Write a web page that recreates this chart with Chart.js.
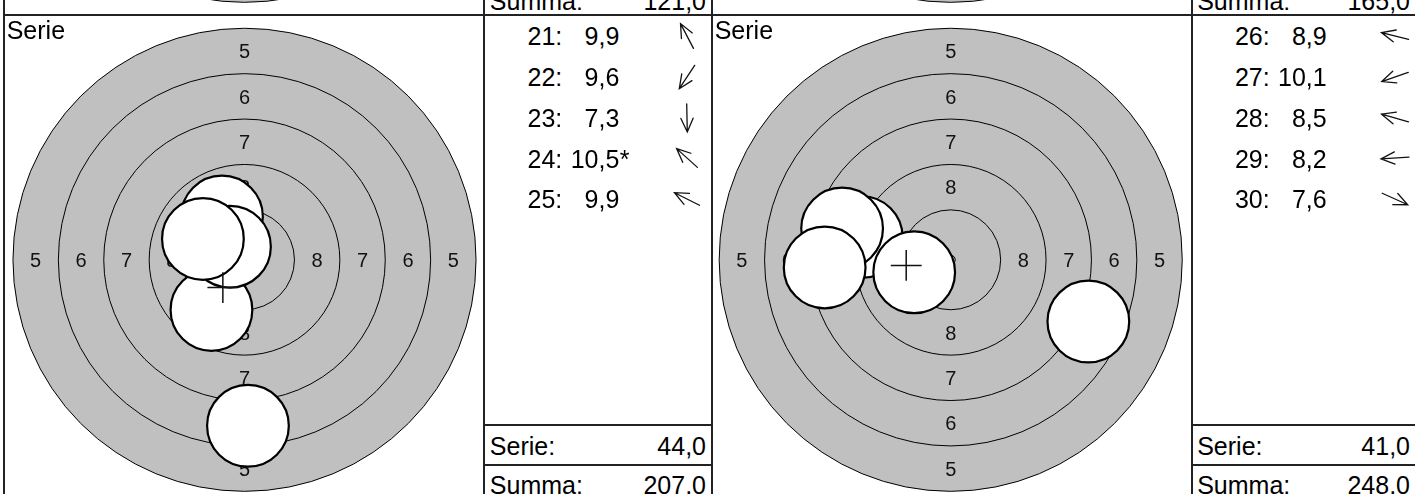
<!DOCTYPE html>
<html><head><meta charset="utf-8">
<script src="https://cdn.jsdelivr.net/npm/chart.js@4.4.1/dist/chart.umd.min.js"></script>
<style>
html,body{margin:0;padding:0;background:#fff;}
body{width:1415px;height:494px;overflow:hidden;position:relative;font-family:"Liberation Sans",Arial,Helvetica,sans-serif;color:#000;}
.ln{position:absolute;background:#222;}
.t{position:absolute;white-space:nowrap;line-height:1;}
canvas{position:absolute;display:block;}
</style></head><body>
<script>
// ---------------- data ----------------
const shotNumbersA = [21, 22, 23, 24, 25];
const shotScoresA  = ['9,9', '9,6', '7,3', '10,5', '9,9'];
const innerTenA    = ['', '', '', '*', ''];
const shotXA = [-1.24, -1.82, 0.19, -0.80, -2.29];   // mm, right +
const shotYA = [ 2.38, -2.76, -9.14, 0.72,  1.15];   // mm, up +
const serieA = '44,0';
const summaA = '207,0';
const prevSummaA = '121,0';

const shotNumbersB = [26, 27, 28, 29, 30];
const shotScoresB  = ['8,9', '10,1', '8,5', '8,2', '7,6'];
const innerTenB    = ['', '', '', '', ''];
const shotXB = [-4.90, -2.01, -5.98, -6.94,  7.58];
const shotYB = [ 1.25, -0.69,  1.72, -0.42, -3.40];
const serieB = '41,0';
const summaB = '248,0';
const prevSummaB = '165,0';

const ringRadii   = [12.75, 10.25, 7.75, 5.25, 2.75, 0.25]; // rings 5..10, mm
const labelRings  = [5, 6, 7, 8];
const labelRadii  = [11.5, 9.0, 6.5, 4.0];
const pelletRadius = 2.25;
const crossHalf = 0.85;
const panelTitle = 'Serie';
const serieLabel = 'Serie:';
const summaLabel = 'Summa:';

// ---------------- layout ----------------
const FONT = '"Liberation Sans", Arial, Helvetica, sans-serif';
const PXMM = 18.16;
const ROW_TOP = 15, ROW_H = 489;
const CY_REL = 244.8;
const PREV_BASE = 10;
const blocks = [
  {tLeft: 4,   tWidth: 480, cx: 244.5, pLeft: 484.3,  pRight: 712,
   nums: shotNumbersA, scores: shotScoresA, stars: innerTenA, xs: shotXA, ys: shotYA,
   serie: serieA, summa: summaA, prev: prevSummaA},
  {tLeft: 712, tWidth: 479, cx: 950.7, pLeft: 1191.7, pRight: 1416,
   nums: shotNumbersB, scores: shotScoresB, stars: innerTenB, xs: shotXB, ys: shotYB,
   serie: serieB, summa: summaB, prev: prevSummaB}
];

function text(str, x, baseline, align, fs) {
  fs = fs || 25;
  const d = document.createElement('div');
  d.className = 't';
  d.textContent = str;
  d.style.fontSize = fs + 'px';
  d.style.top = (baseline - fs * 0.8465) + 'px';
  if (align === 'right') d.style.right = (1415 - x) + 'px';
  else d.style.left = x + 'px';
  document.body.appendChild(d);
  return d;
}
function line(x, y, w, h) {
  const d = document.createElement('div');
  d.className = 'ln';
  d.style.left = x + 'px'; d.style.top = y + 'px';
  d.style.width = w + 'px'; d.style.height = h + 'px';
  document.body.appendChild(d);
}

const targetPlugin = {
  id: 'target',
  beforeDatasetsDraw(chart) {
    const {ctx, scales: {x, y}} = chart;
    const cx = x.getPixelForValue(0), cy = y.getPixelForValue(0);
    const r = mm => x.getPixelForValue(mm) - cx;
    ctx.save();
    ctx.beginPath();
    ctx.arc(cx, cy, r(ringRadii[0]), 0, Math.PI * 2);
    ctx.fillStyle = '#c0c0c0';
    ctx.fill();
    ctx.strokeStyle = '#000';
    ctx.lineWidth = 1;
    ringRadii.forEach(rr => {
      ctx.beginPath();
      ctx.arc(cx, cy, r(rr), 0, Math.PI * 2);
      ctx.stroke();
    });
    ctx.fillStyle = '#111';
    ctx.font = '20px ' + FONT;
    ctx.textAlign = 'center';
    ctx.textBaseline = 'alphabetic';
    labelRings.forEach((v, i) => {
      const rr = labelRadii[i];
      [[0, rr], [0, -rr], [-rr, 0], [rr, 0]].forEach(([dx, dy]) => {
        ctx.fillText(String(v), x.getPixelForValue(dx), y.getPixelForValue(dy) + 7.2);
      });
    });
    ctx.restore();
  },
  afterDatasetsDraw(chart) {
    const data = chart.data.datasets[0].data;
    if (!data.length) return;
    const {ctx, scales: {x, y}} = chart;
    const mx = data.reduce((s, p) => s + p.x, 0) / data.length;
    const my = data.reduce((s, p) => s + p.y, 0) / data.length;
    ctx.save();
    ctx.strokeStyle = '#111';
    ctx.lineWidth = 1.5;
    ctx.beginPath();
    ctx.moveTo(x.getPixelForValue(mx - crossHalf), y.getPixelForValue(my));
    ctx.lineTo(x.getPixelForValue(mx + crossHalf), y.getPixelForValue(my));
    ctx.moveTo(x.getPixelForValue(mx), y.getPixelForValue(my - crossHalf));
    ctx.lineTo(x.getPixelForValue(mx), y.getPixelForValue(my + crossHalf));
    ctx.stroke();
    ctx.restore();
  }
};

function makeTarget(b, top, withShots) {
  const c = document.createElement('canvas');
  c.width = b.tWidth; c.height = ROW_H;
  c.style.left = b.tLeft + 'px'; c.style.top = top + 'px';
  c.style.width = b.tWidth + 'px'; c.style.height = ROW_H + 'px';
  document.body.appendChild(c);
  const cxr = b.cx - b.tLeft;
  const pts = withShots ? b.xs.map((v, i) => ({x: v, y: b.ys[i]})) : [];
  new Chart(c, {
    type: 'scatter',
    data: {datasets: [{
      data: pts,
      pointRadius: ctx => {
        const sx = ctx.chart.scales && ctx.chart.scales.x;
        return sx ? sx.getPixelForValue(pelletRadius) - sx.getPixelForValue(0) : pelletRadius * PXMM;
      },
      pointHoverRadius: pelletRadius * PXMM,
      pointBackgroundColor: '#fff',
      pointBorderColor: '#000',
      pointBorderWidth: 2.2,
      pointHoverBorderWidth: 2.2,
      showLine: false,
      clip: false
    }]},
    options: {
      responsive: false, animation: false, devicePixelRatio: 1, events: [],
      layout: {padding: 0},
      plugins: {legend: {display: false}, tooltip: {enabled: false}, title: {display: false}},
      scales: {
        x: {type: 'linear', display: false, min: -cxr / PXMM, max: (b.tWidth - cxr) / PXMM},
        y: {type: 'linear', display: false, min: -(ROW_H - CY_REL) / PXMM, max: CY_REL / PXMM}
      }
    },
    plugins: [targetPlugin]
  });
}

function makeArrow(b, cxPage, cyPage, i) {
  const sz = 44;
  const c = document.createElement('canvas');
  c.width = sz; c.height = sz;
  c.style.left = (cxPage - sz / 2) + 'px'; c.style.top = (cyPage - sz / 2) + 'px';
  c.style.width = sz + 'px'; c.style.height = sz + 'px';
  document.body.appendChild(c);
  const ctx = c.getContext('2d');
  const a = Math.atan2(-b.ys[i], b.xs[i]);
  const L = 28, head = 15, ha = 0.42;
  const ux = Math.cos(a), uy = Math.sin(a);
  const tx = sz / 2 + ux * L / 2, ty = sz / 2 + uy * L / 2;
  ctx.strokeStyle = '#111'; ctx.lineWidth = 1.3; ctx.lineCap = 'round';
  ctx.beginPath();
  ctx.moveTo(sz / 2 - ux * L / 2, sz / 2 - uy * L / 2);
  ctx.lineTo(tx, ty);
  ctx.moveTo(tx - head * Math.cos(a - ha), ty - head * Math.sin(a - ha));
  ctx.lineTo(tx, ty);
  ctx.lineTo(tx - head * Math.cos(a + ha), ty - head * Math.sin(a + ha));
  ctx.stroke();
}

blocks.forEach(b => {
  makeTarget(b, ROW_TOP - ROW_H, false);
  makeTarget(b, ROW_TOP, true);
});

blocks.forEach(b => {
  // previous row leftovers
  text(summaLabel, b.pLeft + 5.5, PREV_BASE);
  text(b.prev, b.pRight - 6, PREV_BASE, 'right');
  // title in target panel
  text(panelTitle, b.tLeft + 2.7, 39);
  // shot rows
  b.nums.forEach((n, i) => {
    const base = 45.3 + 40.8 * i;
    text(n + ':', b.pLeft + 78, base, 'right');
    const v = b.pLeft + 135;
    text(b.scores[i], v, base, 'right');
    if (b.stars[i]) text(b.stars[i], v + 0.5, base);
    makeArrow(b, b.pLeft + 203, base - 9.3, i);
  });
  text(serieLabel, b.pLeft + 5.5, 455);
  text(b.serie, b.pRight - 6, 455, 'right');
  text(summaLabel, b.pLeft + 5.5, 494);
  text(b.summa, b.pRight - 6, 494, 'right');
  // panel lines
  line(Math.round(b.pLeft) - 1, 0, 2, 494);
  line(Math.round(b.pLeft), 424, b.pRight - b.pLeft, 2);
  line(Math.round(b.pLeft), 464, b.pRight - b.pLeft, 2);
});
line(3, 0, 2, 494);
line(711, 0, 2, 494);
line(3, 14, 1412, 2);
// hide the text of the previous row below its border line
const mask = document.createElement('div');
mask.style.cssText = 'position:absolute;left:0;top:16px;width:0;height:0;';
document.body.appendChild(mask);
</script>
</body></html>
